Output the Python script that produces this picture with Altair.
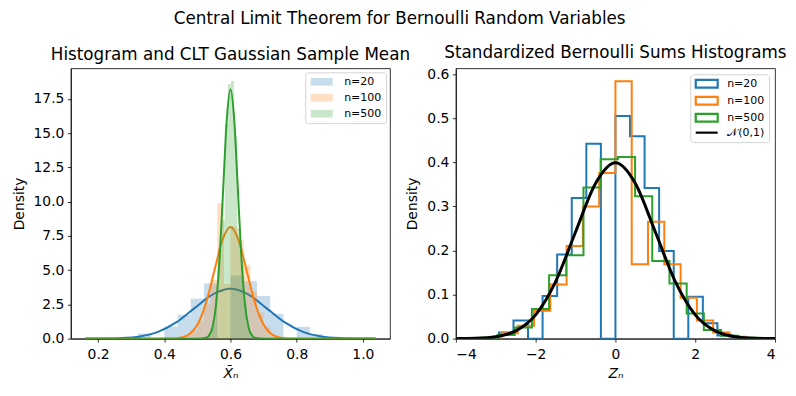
import altair as alt
import pandas as pd

# ---------------- data ----------------
series_names = ["n=20", "n=100", "n=500"]
colors = ["#1f77b4", "#ff7f0e", "#2ca02c"]
norm_label = "𝒩(0,1)"

# left panel: density histograms of the sample mean
left_edges_20 = [0.28, 0.32, 0.36, 0.40, 0.44, 0.48, 0.52, 0.56, 0.60, 0.64, 0.68, 0.72, 0.76, 0.80, 0.84, 0.88, 0.92]
left_heights_20 = [0.128, 0.374, 0.0, 0.886, 1.744, 2.912, 4.035, 0.0, 4.610, 4.190, 3.122, 1.817, 0.0, 0.867, 0.320, 0.064]
left_edges_100 = [0.46, 0.48, 0.50, 0.52, 0.54, 0.56, 0.58, 0.60, 0.62, 0.64, 0.66, 0.68, 0.70, 0.72, 0.74, 0.76]
left_heights_100 = [0.25, 0.59, 1.29, 2.51, 4.29, 9.9, 4.0, 8.2, 7.2, 5.4, 3.45, 1.9, 0.84, 0.29, 0.09]
left_edges_500 = [0.5258, 0.5352, 0.5447, 0.5541, 0.5636, 0.5730, 0.5825, 0.5919, 0.6013, 0.6108, 0.6202, 0.6297, 0.6391, 0.6486, 0.6580, 0.6674, 0.6769]
left_heights_500 = [0.09, 0.37, 1.14, 3.06, 6.57, 8.63, 15.66, 18.58, 18.80, 14.74, 8.03, 5.71, 2.60, 0.89, 0.31, 0.09]

# left panel: CLT gaussian curves
curve_x_20 = [0.1618, 0.2166, 0.2714, 0.3262, 0.3809, 0.4357, 0.4905, 0.5452, 0.6, 0.6548, 0.7095, 0.7643, 0.8191, 0.8738, 0.9286, 0.9834, 1.0382]
curve_y_20 = [0.0012, 0.0080, 0.0405, 0.160, 0.493, 1.182, 2.209, 3.214, 3.642, 3.214, 2.209, 1.182, 0.493, 0.160, 0.0405, 0.0080, 0.0012]
curve_x_100 = [0.1618, 0.3550, 0.4040, 0.4285, 0.4530, 0.4775, 0.5020, 0.5265, 0.5510, 0.5755, 0.6, 0.6245, 0.6490, 0.6735, 0.6980, 0.7225, 0.7470, 0.7715, 0.7960, 0.8450, 1.0382]
curve_y_100 = [0.0, 0.0001, 0.0027, 0.0178, 0.0905, 0.3578, 1.1021, 2.6438, 4.9392, 7.1865, 8.143, 7.1865, 4.9392, 2.6438, 1.1021, 0.3578, 0.0905, 0.0178, 0.0027, 0.0001, 0.0]
curve_x_500 = [0.1618, 0.4900, 0.5124, 0.5233, 0.5343, 0.5452, 0.5562, 0.5671, 0.5781, 0.5890, 0.6, 0.6110, 0.6219, 0.6329, 0.6438, 0.6548, 0.6657, 0.6767, 0.6876, 0.7100, 1.0382]
curve_y_500 = [0.0, 0.0001, 0.0061, 0.0398, 0.2023, 0.8000, 2.4643, 5.9116, 11.0443, 16.0695, 18.209, 16.0695, 11.0443, 5.9116, 2.4643, 0.8000, 0.2023, 0.0398, 0.0061, 0.0001, 0.0]

# right panel: standardized sums, step histograms
right_edges_20 = [-2.921, -2.556, -2.191, -1.826, -1.461, -1.095, -0.730, -0.365, 0.000, 0.365, 0.730, 1.095, 1.461, 1.826, 2.191, 2.556, 2.921]
right_heights_20 = [0.014, 0.041, 0.0, 0.097, 0.191, 0.319, 0.442, 0.0, 0.505, 0.459, 0.342, 0.199, 0.0, 0.095, 0.035, 0.007]
right_edges_100 = [-2.857, -2.449, -2.041, -1.633, -1.224, -0.816, -0.408, 0.000, 0.408, 0.816, 1.224, 1.633, 2.041, 2.449, 2.857, 3.265]
right_heights_100 = [0.012, 0.029, 0.063, 0.123, 0.21, 0.30, 0.376, 0.584, 0.169, 0.265, 0.169, 0.093, 0.041, 0.014, 0.0045]
right_edges_500 = [-3.387, -2.956, -2.525, -2.094, -1.663, -1.232, -0.801, -0.370, 0.061, 0.492, 0.923, 1.354, 1.785, 2.216, 2.647, 3.078, 3.509]
right_heights_500 = [0.002, 0.008, 0.025, 0.067, 0.144, 0.189, 0.343, 0.407, 0.412, 0.323, 0.176, 0.125, 0.057, 0.0196, 0.0068, 0.002]

norm_x = [-4.0, -3.5, -3.0, -2.5, -2.0, -1.5, -1.0, -0.5, 0.0, 0.5, 1.0, 1.5, 2.0, 2.5, 3.0, 3.5, 4.0]
norm_y = [0.0001, 0.0009, 0.0044, 0.0175, 0.0540, 0.1295, 0.2420, 0.3521, 0.3989, 0.3521, 0.2420, 0.1295, 0.0540, 0.0175, 0.0044, 0.0009, 0.0001]

left_x_ticks = [0.2, 0.4, 0.6, 0.8, 1.0]
left_y_ticks = [0.0, 2.5, 5.0, 7.5, 10.0, 12.5, 15.0, 17.5]
right_x_ticks = [-4, -2, 0, 2, 4]
right_y_ticks = [0.0, 0.1, 0.2, 0.3, 0.4, 0.5, 0.6]

# ---------------- build tables ----------------
def bars(edges, heights, name):
    return pd.DataFrame({"x0": edges[:-1], "x1": edges[1:], "h": heights, "series": name})

def steps(edges, heights, name):
    xs = [edges[0]] + list(edges[:-1]) + [edges[-1], edges[-1]]
    ys = [0.0] + list(heights) + [heights[-1], 0.0]
    return pd.DataFrame({"x": xs, "y": ys, "series": name, "o": list(range(len(xs)))})

def curve(xs, ys, name):
    return pd.DataFrame({"x": xs, "y": ys, "series": name})

FONT = "DejaVu Sans"
W, H = 320, 271
TITLE_SIZE = 16.8
# legend swatches: small nominal symbol size, path drawn wider than the unit box
RECT = "M-1,-0.9625H4.5V0.9625H-1Z"
LINE = "M-1,0H4.5"

left_xscale = alt.Scale(domain=[0.1175, 1.082], nice=False, zero=False)
left_yscale = alt.Scale(domain=[0, 19.73], nice=False)
right_xscale = alt.Scale(domain=[-4, 4], nice=False, zero=False)
right_yscale = alt.Scale(domain=[0, 0.6133], nice=False)

def xaxis(values, fmt, title):
    return alt.Axis(values=values, format=fmt, title=title, grid=False, labelPadding=5,
                    titlePadding=6, titleFontStyle="italic")

def yaxis(values, fmt, title):
    return alt.Axis(values=values, format=fmt, title=title, grid=False, labelPadding=3.5,
                    titlePadding=7)

LX = xaxis(left_x_ticks, ".1f", "X̄ₙ")
LY = yaxis(left_y_ticks, ".1f", "Density")
RX = xaxis(right_x_ticks, "d", "Zₙ")
RY = yaxis(right_y_ticks, ".1f", "Density")

left_color = alt.Color("series:N", scale=alt.Scale(domain=series_names, range=colors),
                       legend=alt.Legend(title=None, orient="top-right", offset=4,
                                         symbolType=RECT, symbolSize=64,
                                         symbolOpacity=0.25, symbolStrokeWidth=0,
                                         labelFontSize=11, labelOffset=24,
                                         padding=4, rowPadding=4,
                                         fillColor="white", strokeColor="#d3d3d3",
                                         cornerRadius=3))

left_layers = []
for edges, heights, xs, ys, name, col in [
    (left_edges_20, left_heights_20, curve_x_20, curve_y_20, "n=20", colors[0]),
    (left_edges_100, left_heights_100, curve_x_100, curve_y_100, "n=100", colors[1]),
    (left_edges_500, left_heights_500, curve_x_500, curve_y_500, "n=500", colors[2]),
]:
    b = alt.Chart(bars(edges, heights, name)).mark_rect(opacity=0.25).encode(
        x=alt.X("x0:Q", scale=left_xscale, axis=LX),
        x2="x1:Q",
        y=alt.Y("h:Q", scale=left_yscale, axis=LY),
        y2=alt.datum(0),
        color=left_color,
    )
    c = alt.Chart(curve(xs, ys, name)).mark_line(interpolate="monotone", strokeWidth=2, color=col, clip=True).encode(
        x=alt.X("x:Q", scale=left_xscale, axis=LX),
        y=alt.Y("y:Q", scale=left_yscale, axis=LY),
    )
    left_layers += [b, c]

left = alt.layer(*left_layers).properties(
    width=W, height=H,
    title=alt.Title("Histogram and CLT Gaussian Sample Mean", fontSize=TITLE_SIZE, fontWeight="normal", offset=5),
)

right_domain = series_names + [norm_label]
right_range = colors + ["black"]
right_legend = alt.Legend(title=None, orient="top-right", offset=6,
                          symbolSize=64, symbolFillColor="white", symbolStrokeWidth=2.2,
                          symbolOpacity=1,
                          labelFontSize=11, labelOffset=22, padding=4, rowPadding=0,
                          fillColor="white", strokeColor="#d3d3d3", cornerRadius=3)

right_layers = []
for edges, heights, name, col in [
    (right_edges_20, right_heights_20, "n=20", colors[0]),
    (right_edges_100, right_heights_100, "n=100", colors[1]),
    (right_edges_500, right_heights_500, "n=500", colors[2]),
]:
    right_layers.append(
        alt.Chart(steps(edges, heights, name)).mark_line(interpolate="step-after", strokeWidth=2, color=col,
                                                         clip=True).encode(
            x=alt.X("x:Q", scale=right_xscale, axis=RX),
            y=alt.Y("y:Q", scale=right_yscale, axis=RY),
            order="o:Q",
        )
    )
norm_df = curve(norm_x, norm_y, norm_label)
right_layers.append(
    alt.Chart(norm_df).mark_line(interpolate="monotone", strokeWidth=3, color="black", clip=True).encode(
        x=alt.X("x:Q", scale=right_xscale, axis=RX),
        y=alt.Y("y:Q", scale=right_yscale, axis=RY),
    )
)
# invisible points that only carry the legend (colour + symbol shape per series)
right_layers.append(
    alt.Chart(norm_df).mark_point(opacity=0, filled=False, strokeWidth=2).encode(
        x=alt.X("x:Q", scale=right_xscale, axis=RX),
        y=alt.Y("y:Q", scale=right_yscale, axis=RY),
        color=alt.Color("series:N", scale=alt.Scale(domain=right_domain, range=right_range), legend=right_legend),
        shape=alt.Shape("series:N", scale=alt.Scale(domain=right_domain, range=[RECT, RECT, RECT, LINE]),
                        legend=right_legend),
    )
)
right = alt.layer(*right_layers).properties(
    width=W, height=H,
    title=alt.Title("Standardized Bernoulli Sums Histograms", fontSize=TITLE_SIZE, fontWeight="normal", offset=5),
)

chart = alt.hconcat(left, right, spacing=66, bounds="flush").resolve_scale(
    color="independent", shape="independent").resolve_legend(
    color="independent", shape="independent").properties(
    title=alt.Title("Central Limit Theorem for Bernoulli Random Variables", fontSize=TITLE_SIZE, fontWeight="normal",
                    anchor="middle", offset=17),
    padding={"left": 3, "top": 2, "right": 0, "bottom": 2},
).configure(font=FONT).configure_axis(
    labelFont=FONT, titleFont=FONT, labelFontSize=13.9, titleFontSize=13.9, titleFontWeight="normal",
    labelColor="black", titleColor="black", tickColor="black", domainColor="black",
    tickSize=3.5, domainWidth=0.8, tickWidth=0.8,
).configure_view(stroke="black", strokeWidth=0.8).configure_title(font=FONT, color="black").configure_legend(
    labelFont=FONT, labelColor="black")

chart.save("out.html", embed_options={"renderer": "svg", "actions": False})
